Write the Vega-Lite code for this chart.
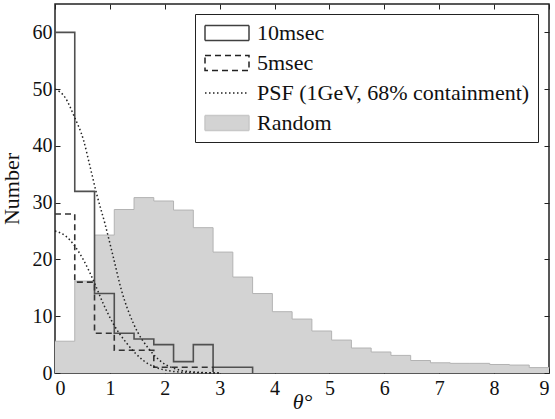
{
  "$schema": "https://vega.github.io/schema/vega-lite/v6.json",
  "width": 494,
  "height": 369,
  "autosize": "none",
  "padding": {"left": 55, "top": 4, "right": 6, "bottom": 46},
  "background": "white",
  "datasets": {
    "random": [
      {"theta": 0, "n": 5.6}, {"theta": 0.36, "n": 16.2}, {"theta": 0.72, "n": 24.3},
      {"theta": 1.08, "n": 28.8}, {"theta": 1.44, "n": 30.9}, {"theta": 1.8, "n": 30.3},
      {"theta": 2.16, "n": 28.7}, {"theta": 2.52, "n": 25.6}, {"theta": 2.88, "n": 21.3},
      {"theta": 3.24, "n": 16.9}, {"theta": 3.6, "n": 14.0}, {"theta": 3.96, "n": 10.8},
      {"theta": 4.32, "n": 9.5}, {"theta": 4.68, "n": 7.4}, {"theta": 5.04, "n": 5.8},
      {"theta": 5.4, "n": 4.4}, {"theta": 5.76, "n": 3.7}, {"theta": 6.12, "n": 3.1},
      {"theta": 6.48, "n": 2.2}, {"theta": 6.84, "n": 1.8}, {"theta": 7.2, "n": 1.7},
      {"theta": 7.56, "n": 1.7}, {"theta": 7.92, "n": 1.5}, {"theta": 8.28, "n": 1.4},
      {"theta": 8.64, "n": 0.95}, {"theta": 9.0, "n": 0.95}
    ],
    "ms10": [
      {"theta": 0, "n": 60}, {"theta": 0.36, "n": 32}, {"theta": 0.72, "n": 14},
      {"theta": 1.08, "n": 7}, {"theta": 1.44, "n": 6}, {"theta": 1.8, "n": 5},
      {"theta": 2.16, "n": 2}, {"theta": 2.52, "n": 5}, {"theta": 2.88, "n": 1},
      {"theta": 3.24, "n": 1}, {"theta": 3.6, "n": 0}
    ],
    "ms5": [
      {"theta": 0, "n": 28}, {"theta": 0.36, "n": 16}, {"theta": 0.72, "n": 7},
      {"theta": 1.08, "n": 4}, {"theta": 1.44, "n": 4}, {"theta": 1.8, "n": 1},
      {"theta": 2.16, "n": 1}, {"theta": 2.52, "n": 1}, {"theta": 2.88, "n": 0}
    ],
    "psf": [
      {"curve": "a", "theta": 0, "n": 50}, {"curve": "a", "theta": 0.18, "n": 48.6},
      {"curve": "a", "theta": 0.35, "n": 45.2}, {"curve": "a", "theta": 0.52, "n": 41},
      {"curve": "a", "theta": 0.64, "n": 36.3}, {"curve": "a", "theta": 0.76, "n": 31.5},
      {"curve": "a", "theta": 0.91, "n": 26.3}, {"curve": "a", "theta": 1.06, "n": 20.5},
      {"curve": "a", "theta": 1.21, "n": 14.6}, {"curve": "a", "theta": 1.43, "n": 8.7},
      {"curve": "a", "theta": 1.73, "n": 4.0}, {"curve": "a", "theta": 2.09, "n": 1.1},
      {"curve": "a", "theta": 2.5, "n": 0.2}, {"curve": "a", "theta": 3.0, "n": 0},
      {"curve": "b", "theta": 0, "n": 25}, {"curve": "b", "theta": 0.21, "n": 24},
      {"curve": "b", "theta": 0.35, "n": 22.5}, {"curve": "b", "theta": 0.52, "n": 19.9},
      {"curve": "b", "theta": 0.7, "n": 16.3}, {"curve": "b", "theta": 0.88, "n": 12.2},
      {"curve": "b", "theta": 1.06, "n": 8.7}, {"curve": "b", "theta": 1.31, "n": 5.2},
      {"curve": "b", "theta": 1.61, "n": 2.2}, {"curve": "b", "theta": 1.97, "n": 0.6},
      {"curve": "b", "theta": 2.4, "n": 0.1}, {"curve": "b", "theta": 3.0, "n": 0}
    ],
    "keys": [
      {"series": "10msec"}, {"series": "5msec"},
      {"series": "PSF (1GeV, 68% containment)"}, {"series": "Random"}
    ]
  },
  "resolve": {"axis": {"x": "independent", "y": "independent"}},
  "layer": [
    {
      "data": {"name": "random"},
      "mark": {"type": "area", "interpolate": "step-after", "color": "#d3d3d3", "opacity": 1,
               "line": {"color": "#b3b3b3", "strokeWidth": 1}},
      "encoding": {
        "x": {"field": "theta", "type": "quantitative", "scale": {"domain": [0, 9], "nice": false},
              "title": "θ°",
              "axis": {"orient": "bottom", "values": [0,1,2,3,4,5,6,7,8,9], "tickSize": -5,
                       "labelPadding": 10, "titleFontStyle": "italic", "titlePadding": -7}},
        "y": {"field": "n", "type": "quantitative", "scale": {"domain": [0, 65], "nice": false},
              "title": "Number",
              "axis": {"orient": "left", "values": [0,10,20,30,40,50,60], "tickSize": -5,
                       "labelPadding": 8, "titlePadding": 9}}
      }
    },
    {
      "data": {"name": "ms10"},
      "mark": {"type": "line", "interpolate": "step-after", "color": "#505050", "strokeWidth": 1.6},
      "encoding": {
        "x": {"field": "theta", "type": "quantitative", "scale": {"domain": [0, 9], "nice": false},
              "axis": {"orient": "top", "values": [0,1,2,3,4,5,6,7,8,9], "tickSize": -5,
                       "labels": false, "title": null}},
        "y": {"field": "n", "type": "quantitative", "scale": {"domain": [0, 65], "nice": false},
              "axis": {"orient": "right", "values": [0,10,20,30,40,50,60], "tickSize": -5,
                       "labels": false, "title": null}}
      }
    },
    {
      "data": {"name": "ms5"},
      "mark": {"type": "line", "interpolate": "step-after", "color": "#333333", "strokeWidth": 1.6,
               "strokeDash": [6, 4]},
      "encoding": {
        "x": {"field": "theta", "type": "quantitative", "axis": null},
        "y": {"field": "n", "type": "quantitative", "axis": null}
      }
    },
    {
      "data": {"name": "psf"},
      "mark": {"type": "line", "interpolate": "monotone", "color": "#222222", "strokeWidth": 1.5,
               "strokeDash": [1.5, 2.5]},
      "encoding": {
        "x": {"field": "theta", "type": "quantitative", "axis": null},
        "y": {"field": "n", "type": "quantitative", "axis": null},
        "detail": {"field": "curve"}
      }
    },
    {
      "data": {"name": "keys"},
      "transform": [{"filter": "false"}],
      "mark": {"type": "point", "size": 400, "strokeWidth": 1.5, "opacity": 1},
      "encoding": {
        "x": {"datum": 0, "type": "quantitative", "axis": null},
        "y": {"datum": 0, "type": "quantitative", "axis": null},
        "shape": {"field": "series", "type": "nominal",
                  "scale": {"domain": ["10msec", "5msec", "PSF (1GeV, 68% containment)", "Random"],
                            "range": ["M-2.2,-0.75H2.2V0.75H-2.2Z", "M-2.2,-0.75H2.2V0.75H-2.2Z",
                                      "M-2.2,0H2.2", "M-2.2,-0.75H2.2V0.75H-2.2Z"]},
                  "legend": {"title": null}},
        "stroke": {"field": "series", "type": "nominal",
                   "scale": {"domain": ["10msec", "5msec", "PSF (1GeV, 68% containment)", "Random"],
                             "range": ["#404040", "#222222", "#222222", "#c8c8c8"]},
                   "legend": {"title": null}},
        "fill": {"field": "series", "type": "nominal",
                 "scale": {"domain": ["10msec", "5msec", "PSF (1GeV, 68% containment)", "Random"],
                           "range": ["transparent", "transparent", "transparent", "#d3d3d3"]},
                 "legend": {"title": null}},
        "strokeDash": {"field": "series", "type": "nominal",
                       "scale": {"domain": ["10msec", "5msec", "PSF (1GeV, 68% containment)", "Random"],
                                 "range": [[1, 0], [6, 4], [1.5, 2.5], [1, 0]]},
                       "legend": {"title": null}}
      }
    }
  ],
  "config": {
    "font": "Times New Roman, Liberation Serif, DejaVu Serif, serif",
    "view": {"stroke": "#222222", "strokeWidth": 1.5},
    "axis": {
      "grid": false,
      "domain": false,
      "tickColor": "#222222",
      "tickWidth": 1,
      "labelFont": "Times New Roman, Liberation Serif, DejaVu Serif, serif",
      "labelFontSize": 20,
      "labelColor": "#111111",
      "titleFont": "Times New Roman, Liberation Serif, DejaVu Serif, serif",
      "titleFontSize": 22,
      "titleFontWeight": "normal",
      "titleColor": "#111111"
    },
    "legend": {
      "orient": "none",
      "legendX": 140,
      "legendY": 10,
      "strokeColor": "#222222",
      "fillColor": "white",
      "padding": 8,
      "labelFont": "Times New Roman, Liberation Serif, DejaVu Serif, serif",
      "labelFontSize": 22,
      "labelColor": "#111111",
      "labelLimit": 400,
      "labelOffset": 19,
      "symbolOffset": 13,
      "symbolSize": 400,
      "symbolStrokeWidth": 1.5,
      "symbolOpacity": 1,
      "rowPadding": 8,
      "cornerRadius": 0
    }
  }
}
